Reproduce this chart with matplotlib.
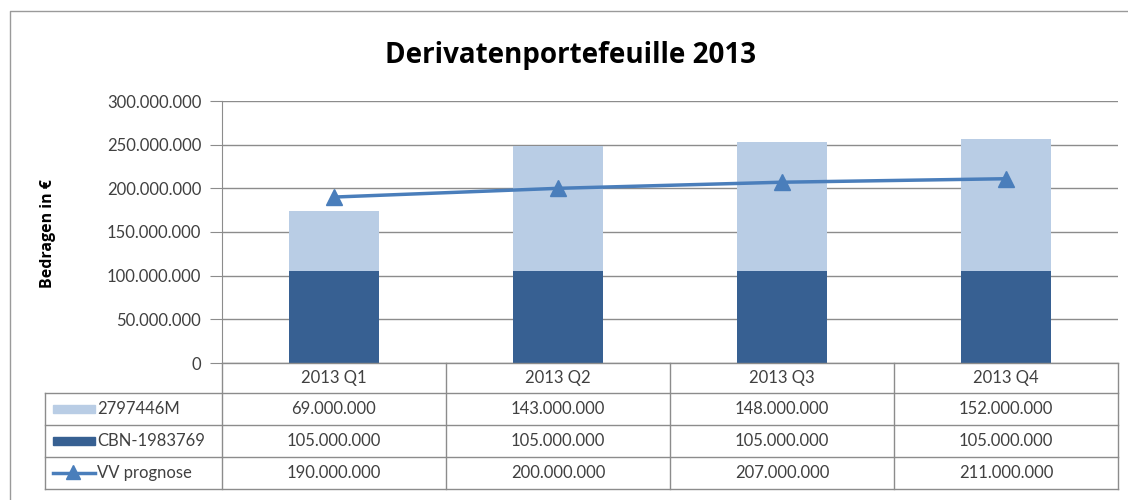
import matplotlib.pyplot as plt
from matplotlib.patches import Rectangle
from matplotlib.lines import Line2D

# data
quarters = ["2013 Q1", "2013 Q2", "2013 Q3", "2013 Q4"]
serie_licht = [69000000, 143000000, 148000000, 152000000]
serie_donker = [105000000, 105000000, 105000000, 105000000]
prognose = [190000000, 200000000, 207000000, 211000000]
namen = ["2797446M", "CBN-1983769", "VV prognose"]

C_LICHT = "#B9CDE5"
C_DONKER = "#376092"
C_LIJN = "#4A7EBB"
C_GRID = "#8C8C8C"
TXT = "#404040"
FONT = "Lato"


def fmt(v):
    return f"{v:,.0f}".replace(",", ".")


W, H = 1128, 500
fig = plt.figure(figsize=(W / 100, H / 100), dpi=100)

# pixel box of the plot area
x0, x1, y0, y1 = 222, 1118, 101, 363
ax = fig.add_axes([x0 / W, 1 - y1 / H, (x1 - x0) / W, (y1 - y0) / H])

xs = range(len(quarters))
ax.bar(xs, serie_donker, width=0.4, color=C_DONKER, zorder=2)
ax.bar(xs, serie_licht, width=0.4, bottom=serie_donker, color=C_LICHT, zorder=2)
ax.plot(xs, prognose, color=C_LIJN, lw=2.5, marker="^", ms=11, zorder=3)

ax.set_xlim(-0.5, len(quarters) - 0.5)
ax.set_ylim(0, 300000000)
ax.set_yticks(range(0, 300000001, 50000000))
ax.set_yticklabels([fmt(v) for v in range(0, 300000001, 50000000)],
                   fontsize=12, color=TXT, family=FONT)
ax.set_xticks([])
ax.grid(axis="y", color=C_GRID, lw=1, zorder=0)
ax.tick_params(axis="y", length=9, color=C_GRID, pad=6)
for s in ["top", "right", "bottom"]:
    ax.spines[s].set_visible(False)
ax.spines["left"].set_color(C_GRID)

# overlay in pixel coordinates for the table, title and frame
ov = fig.add_axes([0, 0, 1, 1], zorder=5)
ov.set_xlim(0, W)
ov.set_ylim(H, 0)
ov.axis("off")
ov.patch.set_alpha(0)

ov.text(571, 55, "Derivatenportefeuille 2013", ha="center", va="center",
        fontsize=20, fontweight="bold", color="black", family="Open Sans")
ov.text(48, 234, "Bedragen in €", rotation=90, ha="center", va="center",
        fontsize=11.5, fontweight="bold", color="black", family="Open Sans")

# outer frame
ov.add_line(Line2D([10, 10, 1127], [499, 11, 11], color="#9A9A9A", lw=1))

# table
col_w = (x1 - x0) / len(quarters)
rows = [363, 393, 425, 457, 489]
left_tab = 45
for i in range(len(quarters) + 1):
    xx = x0 + i * col_w
    ov.add_line(Line2D([xx, xx], [363, 489], color=C_GRID, lw=1))
ov.add_line(Line2D([left_tab, left_tab], [393, 489], color=C_GRID, lw=1))
ov.add_line(Line2D([x0, x1], [363, 363], color=C_GRID, lw=1))
for yy in rows[1:]:
    ov.add_line(Line2D([left_tab, x1], [yy, yy], color=C_GRID, lw=1))

for i, q in enumerate(quarters):
    ov.text(x0 + (i + 0.5) * col_w, 378, q, ha="center", va="center",
            fontsize=12, color=TXT, family=FONT)

reeksen = [serie_licht, serie_donker, prognose]
for r, vals in enumerate(reeksen):
    yc = (rows[r + 1] + rows[r + 2]) / 2
    for i, v in enumerate(vals):
        ov.text(x0 + (i + 0.5) * col_w, yc, fmt(v), ha="center", va="center",
                fontsize=12, color=TXT, family=FONT)
    ov.text(97, yc, namen[r], ha="left", va="center",
            fontsize=12, color=TXT, family=FONT)

# legend keys
ov.add_patch(Rectangle((53, 405), 42, 8, color=C_LICHT))
ov.add_patch(Rectangle((53, 437), 42, 8, color=C_DONKER))
ov.add_line(Line2D([53, 95], [473, 473], color=C_LIJN, lw=2.5))
ov.plot([73], [472], marker="^", ms=10, color=C_LIJN)

fig.savefig("out.png", dpi=100)
